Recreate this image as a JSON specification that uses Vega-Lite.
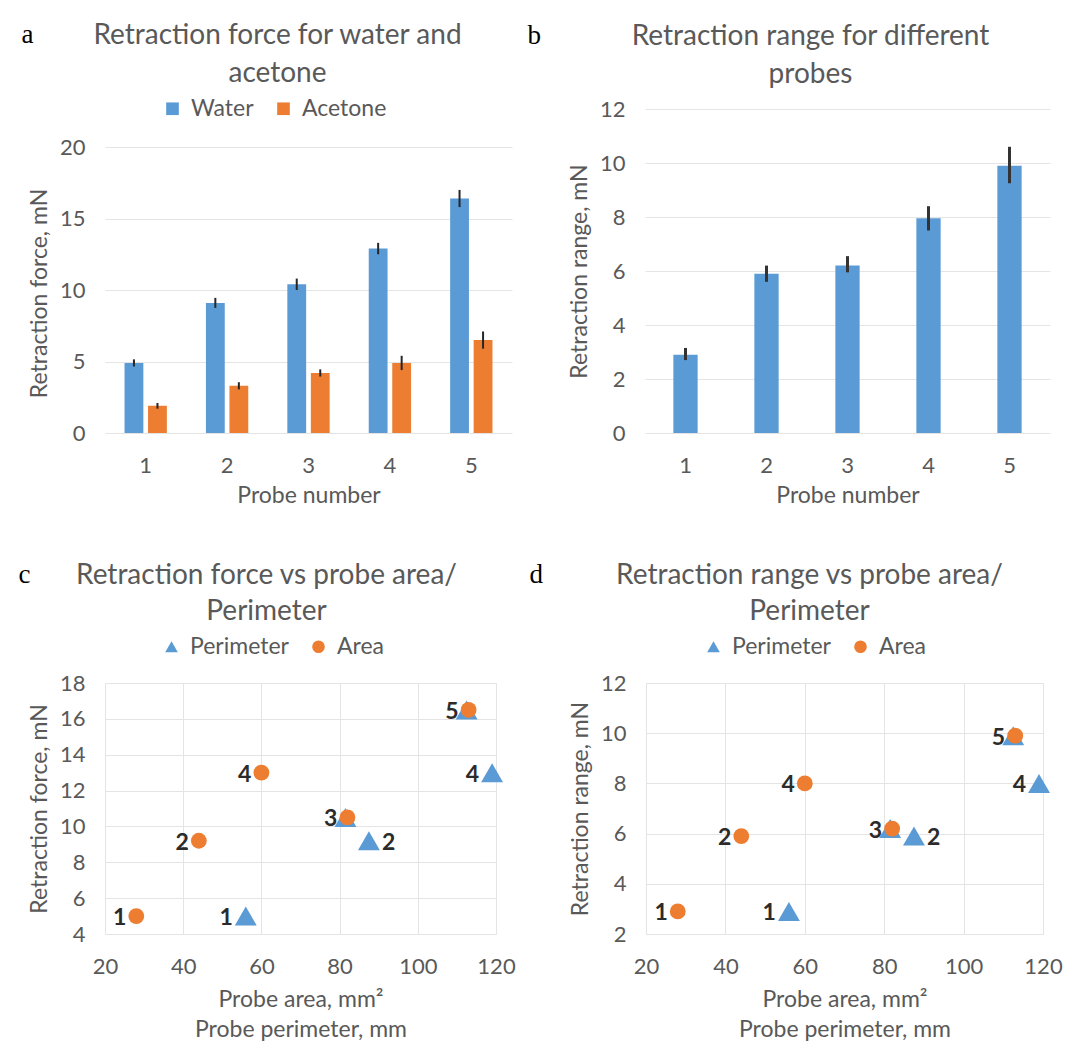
{
  "$schema": "https://vega.github.io/schema/vega-lite/v6.json",
  "padding": {"left": 18, "top": 21, "right": 2, "bottom": 2},
  "background": "white",
  "config": {
    "font": "Lato",
    "view": {"stroke": null},
    "axis": {"labelColor": "#595959", "titleColor": "#595959", "labelFontSize": 22, "titleFontSize": 23, "titleFontWeight": "normal", "gridColor": "#e4e4e4", "domain": false, "ticks": false, "labelPadding": 20, "titlePadding": 8, "labelFlush": false},
    "title": {"color": "#595959", "fontSize": 28, "fontWeight": "normal", "lineHeight": 38, "anchor": "middle"},
    "legend": {"labelColor": "#595959", "labelFontSize": 23, "symbolSize": 160, "columnPadding": 18, "labelOffset": 7}
  },
  "datasets": {
    "barsA": [
      {"probe": 1, "liquid": "Water", "force": 4.9, "lo": 4.65, "hi": 5.15},
      {"probe": 1, "liquid": "Acetone", "force": 1.9, "lo": 1.7, "hi": 2.1},
      {"probe": 2, "liquid": "Water", "force": 9.1, "lo": 8.75, "hi": 9.45},
      {"probe": 2, "liquid": "Acetone", "force": 3.3, "lo": 3.05, "hi": 3.55},
      {"probe": 3, "liquid": "Water", "force": 10.4, "lo": 10.0, "hi": 10.8},
      {"probe": 3, "liquid": "Acetone", "force": 4.2, "lo": 3.95, "hi": 4.45},
      {"probe": 4, "liquid": "Water", "force": 12.9, "lo": 12.5, "hi": 13.3},
      {"probe": 4, "liquid": "Acetone", "force": 4.9, "lo": 4.4, "hi": 5.4},
      {"probe": 5, "liquid": "Water", "force": 16.4, "lo": 15.8, "hi": 17.0},
      {"probe": 5, "liquid": "Acetone", "force": 6.5, "lo": 5.9, "hi": 7.1}
    ],
    "barsB": [
      {"probe": 1, "range": 2.9, "lo": 2.7, "hi": 3.15},
      {"probe": 2, "range": 5.9, "lo": 5.6, "hi": 6.2},
      {"probe": 3, "range": 6.2, "lo": 5.95, "hi": 6.55},
      {"probe": 4, "range": 7.95, "lo": 7.5, "hi": 8.4},
      {"probe": 5, "range": 9.9, "lo": 9.25, "hi": 10.6}
    ],
    "scatter": [
      {"probe": 1, "series": "Perimeter", "mm": 56, "force": 5.0, "range": 2.9},
      {"probe": 2, "series": "Perimeter", "mm": 87.5, "force": 9.2, "range": 5.9},
      {"probe": 3, "series": "Perimeter", "mm": 81.5, "force": 10.5, "range": 6.2},
      {"probe": 4, "series": "Perimeter", "mm": 119, "force": 13.0, "range": 8.0},
      {"probe": 5, "series": "Perimeter", "mm": 112.5, "force": 16.5, "range": 9.9},
      {"probe": 1, "series": "Area", "mm": 28, "force": 5.0, "range": 2.9},
      {"probe": 2, "series": "Area", "mm": 44, "force": 9.2, "range": 5.9},
      {"probe": 3, "series": "Area", "mm": 82, "force": 10.5, "range": 6.2},
      {"probe": 4, "series": "Area", "mm": 60, "force": 13.0, "range": 8.0},
      {"probe": 5, "series": "Area", "mm": 113, "force": 16.5, "range": 9.9}
    ]
  },
  "spacing": 54,
  "resolve": {"scale": {"color": "independent", "shape": "independent"}, "legend": {"color": "independent", "shape": "independent"}},
  "vconcat": [
    {
      "spacing": 15,
      "resolve": {"scale": {"color": "independent", "shape": "independent"}, "legend": {"color": "independent", "shape": "independent"}},
      "hconcat": [
        {
          "title": {"text": "a", "orient": "left", "anchor": "end", "angle": 0, "font": "Liberation Serif", "fontSize": 27, "color": "#000000", "fontWeight": "normal", "offset": -17},
          "resolve": {"scale": {"color": "independent", "shape": "independent"}, "legend": {"color": "independent", "shape": "independent"}},
          "vconcat": [
            {
              "width": 407, "height": 324,
              "title": {"text": ["Retraction force for water and", "acetone"], "offset": 9, "dx": -31},
              "data": {"name": "barsA"},
              "encoding": {
                "x": {"field": "probe", "type": "ordinal", "title": "Probe number", "scale": {"paddingInner": 0.48, "paddingOuter": 0.24}, "axis": {"labelAngle": 0, "labelPadding": 22}},
                "xOffset": {"field": "liquid", "type": "nominal", "sort": ["Water", "Acetone"], "scale": {"paddingInner": 0.2}}
              },
              "layer": [
                {
                  "mark": {"type": "bar"},
                  "encoding": {
                    "y": {"field": "force", "type": "quantitative", "title": "Retraction force, mN", "scale": {"domain": [0, 22.66], "nice": false}, "axis": {"values": [0, 5, 10, 15, 20], "titleY": 184}},
                    "color": {"field": "liquid", "type": "nominal", "sort": ["Water", "Acetone"], "scale": {"domain": ["Water", "Acetone"], "range": ["#5B9BD5", "#ED7D31"]}, "legend": {"orient": "none", "legendX": 56, "legendY": -12, "direction": "horizontal", "title": null, "symbolType": "square"}}
                  }
                },
                {
                  "mark": {"type": "rule", "color": "#262626", "strokeWidth": 2},
                  "encoding": {"y": {"field": "lo", "type": "quantitative", "title": "Retraction force, mN"}, "y2": {"field": "hi"}}
                }
              ]
            }
          ]
        },
        {
          "title": {"text": "b", "orient": "left", "anchor": "end", "angle": 0, "font": "Liberation Serif", "fontSize": 27, "color": "#000000", "fontWeight": "normal", "offset": 14},
          "resolve": {"scale": {"color": "independent", "shape": "independent"}, "legend": {"color": "independent", "shape": "independent"}},
          "vconcat": [
            {
              "width": 405, "height": 324,
              "title": {"text": ["Retraction range for different", "probes"], "offset": 9, "dx": -37},
              "data": {"name": "barsB"},
              "encoding": {
                "x": {"field": "probe", "type": "ordinal", "title": "Probe number", "scale": {"paddingInner": 0.7, "paddingOuter": 0.35}, "axis": {"labelAngle": 0, "labelPadding": 22}}
              },
              "layer": [
                {
                  "mark": {"type": "bar", "color": "#5B9BD5"},
                  "encoding": {"y": {"field": "range", "type": "quantitative", "title": "Retraction range, mN", "scale": {"domain": [0, 12]}, "axis": {"values": [0, 2, 4, 6, 8, 10, 12]}}}
                },
                {
                  "mark": {"type": "rule", "color": "#333333", "strokeWidth": 3},
                  "encoding": {"y": {"field": "lo", "type": "quantitative", "title": "Retraction range, mN"}, "y2": {"field": "hi"}}
                }
              ]
            }
          ]
        }
      ]
    },
    {
      "spacing": 13,
      "resolve": {"scale": {"color": "independent", "shape": "independent"}, "legend": {"color": "independent", "shape": "independent"}},
      "hconcat": [
        {
          "title": {"text": "c", "orient": "left", "anchor": "end", "angle": 0, "font": "Liberation Serif", "fontSize": 27, "color": "#000000", "fontWeight": "normal", "offset": -14},
          "resolve": {"scale": {"color": "independent", "shape": "independent"}, "legend": {"color": "independent", "shape": "independent"}},
          "vconcat": [
            {
              "width": 391, "height": 251,
              "title": {"text": ["Retraction  force vs probe  area/", "Perimeter"], "offset": 9, "lineHeight": 36, "dx": -34},
              "data": {"name": "scatter"},
              "encoding": {
                "x": {"field": "mm", "type": "quantitative", "title": ["Probe area, mm²", "Probe perimeter, mm"], "scale": {"domain": [20, 120], "nice": false, "zero": false}, "axis": {"values": [20, 40, 60, 80, 100, 120], "labelPadding": 22, "titlePadding": 11, "titleLineHeight": 30}},
                "y": {"field": "force", "type": "quantitative", "title": "Retraction force, mN", "scale": {"domain": [4, 18], "nice": false, "zero": false}, "axis": {"values": [4, 6, 8, 10, 12, 14, 16, 18]}}
              },
              "layer": [
                {
                  "transform": [{"filter": "datum.series === 'Perimeter'"}],
                  "mark": {"type": "point", "filled": true, "opacity": 1, "size": 480},
                  "encoding": {
                    "color": {"field": "series", "type": "nominal", "scale": {"domain": ["Perimeter", "Area"], "range": ["#5B9BD5", "#ED7D31"]}, "legend": {"orient": "none", "legendX": 55, "legendY": -48, "direction": "horizontal", "title": null}},
                    "shape": {"field": "series", "type": "nominal", "scale": {"domain": ["Perimeter", "Area"], "range": ["triangle-up", "circle"]}, "legend": {"orient": "none", "legendX": 55, "legendY": -48, "direction": "horizontal", "title": null}}
                  }
                },
                {
                  "transform": [{"filter": "datum.series === 'Area'"}],
                  "mark": {"type": "point", "filled": true, "opacity": 1, "size": 250},
                  "encoding": {
                    "color": {"field": "series", "type": "nominal", "scale": {"domain": ["Perimeter", "Area"], "range": ["#5B9BD5", "#ED7D31"]}, "legend": {"orient": "none", "legendX": 55, "legendY": -48, "direction": "horizontal", "title": null}},
                    "shape": {"field": "series", "type": "nominal", "scale": {"domain": ["Perimeter", "Area"], "range": ["triangle-up", "circle"]}, "legend": {"orient": "none", "legendX": 55, "legendY": -48, "direction": "horizontal", "title": null}}
                  }
                },
                {
                  "transform": [{"filter": "datum.series === 'Area'"}],
                  "mark": {"type": "text", "align": "right", "dx": -10, "dy": 2, "fontSize": 23, "fontWeight": "bold", "color": "#2b2b2b"},
                  "encoding": {"text": {"field": "probe", "type": "nominal"}}
                },
                {
                  "transform": [{"filter": "datum.series === 'Perimeter' && (datum.probe === 1 || datum.probe === 4)"}],
                  "mark": {"type": "text", "align": "right", "dx": -13, "dy": 2, "fontSize": 23, "fontWeight": "bold", "color": "#2b2b2b"},
                  "encoding": {"text": {"field": "probe", "type": "nominal"}}
                },
                {
                  "transform": [{"filter": "datum.series === 'Perimeter' && datum.probe === 2"}],
                  "mark": {"type": "text", "align": "left", "dx": 13, "dy": 2, "fontSize": 23, "fontWeight": "bold", "color": "#2b2b2b"},
                  "encoding": {"text": {"field": "probe", "type": "nominal"}}
                }
              ]
            }
          ]
        },
        {
          "title": {"text": "d", "orient": "left", "anchor": "end", "angle": 0, "font": "Liberation Serif", "fontSize": 27, "color": "#000000", "fontWeight": "normal", "offset": 13},
          "resolve": {"scale": {"color": "independent", "shape": "independent"}, "legend": {"color": "independent", "shape": "independent"}},
          "vconcat": [
            {
              "width": 397, "height": 251,
              "title": {"text": ["Retraction range vs probe  area/", "Perimeter"], "offset": 9, "lineHeight": 36, "dx": -35},
              "data": {"name": "scatter"},
              "encoding": {
                "x": {"field": "mm", "type": "quantitative", "title": ["Probe area, mm²", "Probe perimeter, mm"], "scale": {"domain": [20, 120], "nice": false, "zero": false}, "axis": {"values": [20, 40, 60, 80, 100, 120], "labelPadding": 22, "titlePadding": 11, "titleLineHeight": 30}},
                "y": {"field": "range", "type": "quantitative", "title": "Retraction range, mN", "scale": {"domain": [2, 12], "nice": false, "zero": false}, "axis": {"values": [2, 4, 6, 8, 10, 12]}}
              },
              "layer": [
                {
                  "transform": [{"filter": "datum.series === 'Perimeter'"}],
                  "mark": {"type": "point", "filled": true, "opacity": 1, "size": 480},
                  "encoding": {
                    "color": {"field": "series", "type": "nominal", "scale": {"domain": ["Perimeter", "Area"], "range": ["#5B9BD5", "#ED7D31"]}, "legend": {"orient": "none", "legendX": 56, "legendY": -48, "direction": "horizontal", "title": null}},
                    "shape": {"field": "series", "type": "nominal", "scale": {"domain": ["Perimeter", "Area"], "range": ["triangle-up", "circle"]}, "legend": {"orient": "none", "legendX": 56, "legendY": -48, "direction": "horizontal", "title": null}}
                  }
                },
                {
                  "transform": [{"filter": "datum.series === 'Area'"}],
                  "mark": {"type": "point", "filled": true, "opacity": 1, "size": 250},
                  "encoding": {
                    "color": {"field": "series", "type": "nominal", "scale": {"domain": ["Perimeter", "Area"], "range": ["#5B9BD5", "#ED7D31"]}, "legend": {"orient": "none", "legendX": 56, "legendY": -48, "direction": "horizontal", "title": null}},
                    "shape": {"field": "series", "type": "nominal", "scale": {"domain": ["Perimeter", "Area"], "range": ["triangle-up", "circle"]}, "legend": {"orient": "none", "legendX": 56, "legendY": -48, "direction": "horizontal", "title": null}}
                  }
                },
                {
                  "transform": [{"filter": "datum.series === 'Area'"}],
                  "mark": {"type": "text", "align": "right", "dx": -10, "dy": 2, "fontSize": 23, "fontWeight": "bold", "color": "#2b2b2b"},
                  "encoding": {"text": {"field": "probe", "type": "nominal"}}
                },
                {
                  "transform": [{"filter": "datum.series === 'Perimeter' && (datum.probe === 1 || datum.probe === 4)"}],
                  "mark": {"type": "text", "align": "right", "dx": -13, "dy": 2, "fontSize": 23, "fontWeight": "bold", "color": "#2b2b2b"},
                  "encoding": {"text": {"field": "probe", "type": "nominal"}}
                },
                {
                  "transform": [{"filter": "datum.series === 'Perimeter' && datum.probe === 2"}],
                  "mark": {"type": "text", "align": "left", "dx": 13, "dy": 2, "fontSize": 23, "fontWeight": "bold", "color": "#2b2b2b"},
                  "encoding": {"text": {"field": "probe", "type": "nominal"}}
                }
              ]
            }
          ]
        }
      ]
    }
  ]
}
